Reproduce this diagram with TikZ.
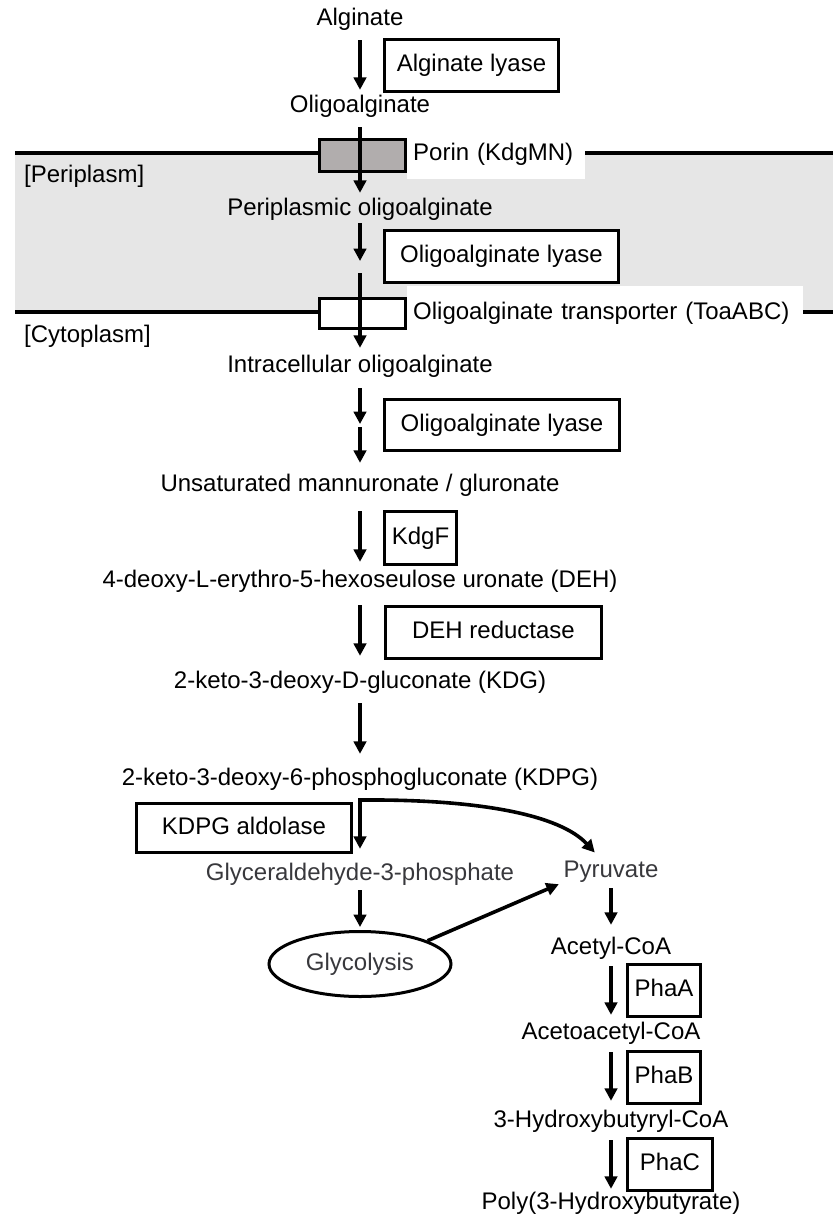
\documentclass[tikz,border=0pt]{standalone}
\usepackage{fontspec}
\setmainfont{Liberation Sans}
\usetikzlibrary{arrows.meta,shapes.geometric}
\definecolor{periplasmfill}{RGB}{230,230,230}
\definecolor{porinfill}{RGB}{177,173,173}
\definecolor{dgray}{RGB}{56,56,60}
\newcommand{\diagfont}{\fontsize{24}{28}\selectfont}
\begin{document}
\begin{tikzpicture}[x=1pt,y=-1pt,
  met/.style={font=\diagfont, inner sep=0pt, text height=17pt, text depth=5pt},
  enz/.style={draw, fill=white, line width=3pt, font=\diagfont, inner sep=0pt, text height=17pt, text depth=5pt, anchor=north west},
  lab/.style={fill=white, font=\diagfont, inner xsep=6pt, inner ysep=6pt, align=left, anchor=north west},
  rxn/.style={line width=3.6pt, -{Triangle[length=12.5pt,width=12.5pt]}},
  mem/.style={line width=4pt},
  side/.style={font=\diagfont, inner sep=0pt, anchor=west, text height=17pt, text depth=5pt}
  ]
\useasboundingbox (0,0) rectangle (833,1219);

% membranes and periplasm
\fill[periplasmfill] (15,153) rectangle (833,312);
\draw[mem] (15,153) -- (833,153);
\draw[mem] (15,312) -- (833,312);
\node[side] (perilab) at (24,176) {[Periplasm]};
\node[side] (cytolab) at (24,336) {[Cytoplasm]};

% membrane proteins
\node[enz, fill=porinfill, minimum width=86pt, minimum height=32pt] (porin) at (318,138) {};
\node[enz, minimum width=86pt, minimum height=30pt] (toa) at (318,297) {};
\node[lab, text height=17pt, text depth=13pt, text width=166pt] (porinlab) at (407,137) {Porin (KdgMN)};
\node[lab, text height=27pt, text depth=5pt, text width=384pt] (toalab) at (407,286) {Oligoalginate transporter (ToaABC)};

% metabolites
\node[met] (alg) at (360,19) {Alginate};
\node[met] (olig) at (360,106) {Oligoalginate};
\node[met] (peri) at (360,209) {Periplasmic oligoalginate};
\node[met] (intra) at (360,366) {Intracellular oligoalginate};
\node[met] (unsat) at (360,485) {Unsaturated mannuronate / gluronate};
\node[met] (deh) at (360,581) {4-deoxy-L-erythro-5-hexoseulose uronate (DEH)};
\node[met] (kdg) at (360,682) {2-keto-3-deoxy-D-gluconate (KDG)};
\node[met] (kdpg) at (360,779) {2-keto-3-deoxy-6-phosphogluconate (KDPG)};
\node[met, text=dgray] (g3p) at (360,874) {Glyceraldehyde-3-phosphate};
\node[met, text=dgray] (pyr) at (611,871) {Pyruvate};
\node[met] (acoa) at (611,948) {Acetyl-CoA};
\node[met] (aacoa) at (611,1033) {Acetoacetyl-CoA};
\node[met] (hbcoa) at (611,1121) {3-Hydroxybutyryl-CoA};
\node[met] (phb) at (611,1203) {Poly(3-Hydroxybutyrate)};
\node[ellipse, draw, line width=3pt, minimum width=182pt, minimum height=65pt, inner sep=0pt,
      font=\diagfont, text=dgray, text height=17pt, text depth=5pt] (glyc) at (360,964) {Glycolysis};

% enzymes
\node[enz, minimum width=174pt, minimum height=52pt] (ealg) at (383,38) {Alginate lyase};
\node[enz, minimum width=234pt, minimum height=52pt] (epl) at (383,229) {Oligoalginate lyase};
\node[enz, minimum width=235pt, minimum height=51pt] (ecl) at (383,398) {Oligoalginate lyase};
\node[enz, minimum width=72pt, minimum height=53pt] (ekdgf) at (383,510) {KdgF};
\node[enz, minimum width=216pt, minimum height=52pt] (edeh) at (384,605) {DEH reductase};
\node[enz, minimum width=215pt, minimum height=49pt] (eald) at (135,802) {KDPG aldolase};
\node[enz, minimum width=73pt, minimum height=52pt] (ephaa) at (626,963) {PhaA};
\node[enz, minimum width=73pt, minimum height=52pt] (ephab) at (626,1050) {PhaB};
\node[enz, minimum width=85pt, minimum height=52pt] (ephac) at (626,1137) {PhaC};

% reactions
\coordinate (cut1) at (360,261);
\coordinate (cut2) at (360,424);
\coordinate (split) at (360,800);
\draw[rxn, shorten <=10pt, shorten >=5pt] (alg) -- (olig);
\draw[rxn, shorten <=10pt, shorten >=5pt] (olig) -- (peri);
\draw[rxn, shorten <=3pt] (peri) -- (cut1);
\draw[rxn, shorten <=12pt, shorten >=7pt] (cut1) -- (intra);
\draw[rxn, shorten <=11pt] (intra) -- (cut2);
\draw[rxn, shorten <=3pt, shorten >=11pt] (cut2) -- (unsat);
\draw[rxn, shorten <=15pt, shorten >=8pt] (unsat) -- (deh);
\draw[rxn, shorten <=13pt, shorten >=15pt] (deh) -- (kdg);
\draw[rxn, shorten <=10pt, shorten >=14pt] (kdg) -- (kdpg);
\draw[rxn, shorten >=14pt] ([yshift=1.8pt]split) -- (g3p);
\draw[rxn, shorten >=10pt] (split) .. controls (480,799) and (560,815) .. (pyr.130);
\draw[rxn, shorten <=5pt, shorten >=3pt] (g3p) -- (glyc);
\draw[rxn, shorten >=5pt] (glyc.19) -- (pyr.south west);
\draw[rxn, shorten <=6pt, shorten >=12pt] (pyr) -- (acoa);
\draw[rxn, shorten <=7pt, shorten >=7pt] (acoa) -- (aacoa);
\draw[rxn, shorten <=8pt, shorten >=9pt] (aacoa) -- (hbcoa);
\draw[rxn, shorten <=8pt, shorten >=3pt] (hbcoa) -- (phb);
\end{tikzpicture}
\end{document}
